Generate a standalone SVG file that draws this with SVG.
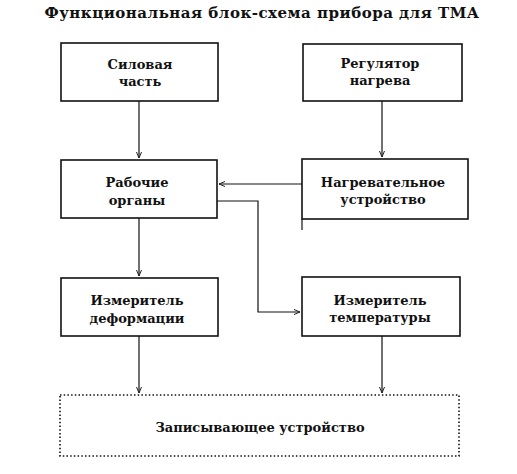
<svg xmlns="http://www.w3.org/2000/svg" width="517" height="474" viewBox="0 0 517 474">
<defs>
<marker id="arr" markerWidth="8" markerHeight="8" refX="7" refY="4" orient="auto" markerUnits="userSpaceOnUse">
<path d="M1,1.5 L7,4 L1,6.5" fill="none" stroke="#222" stroke-width="1"/>
</marker>
</defs>
<style>
.box{fill:#fff;stroke:#111;stroke-width:1.6}
.dot{fill:#fff;stroke:#111;stroke-width:1.6;stroke-dasharray:1.5 2.2}
.t{font-family:"DejaVu Serif","Liberation Serif",serif;font-weight:bold;font-size:13px;fill:#111;text-anchor:middle}
.title{font-family:"DejaVu Serif","Liberation Serif",serif;font-weight:bold;font-size:15px;fill:#111;text-anchor:middle;letter-spacing:0.5px}
.c{fill:none;stroke:#111;stroke-width:1.2}
</style>
<rect width="517" height="474" fill="#fff"/>
<text class="title" x="262" y="18">Функциональная блок-схема прибора для ТМА</text>
<g id="connectors">
<line class="c" x1="139" y1="101" x2="139" y2="158" marker-end="url(#arr)"/>
<line class="c" x1="382" y1="101" x2="382" y2="157" marker-end="url(#arr)"/>
<line class="c" x1="302" y1="184" x2="219" y2="184" marker-end="url(#arr)"/>
<polyline class="c" points="217,201 258,201 258,312 300,312" marker-end="url(#arr)"/>
<line class="c" x1="139" y1="218" x2="139" y2="276" marker-end="url(#arr)"/>
<line class="c" x1="139" y1="336" x2="139" y2="393" marker-end="url(#arr)"/>
<line class="c" x1="382" y1="336" x2="382" y2="393" marker-end="url(#arr)"/>
</g>
<g id="silovaya">
<rect class="box" x="61" y="43" width="157" height="58"/>
<text class="t" x="140" y="69">Силовая</text>
<text class="t" x="140" y="86">часть</text>
</g>
<g id="regulyator">
<rect class="box" x="303" y="44" width="159" height="57"/>
<text class="t" x="380" y="68">Регулятор</text>
<text class="t" x="380" y="85">нагрева</text>
</g>
<g id="rabochie">
<rect class="box" x="61" y="160" width="156" height="58"/>
<text class="t" x="137" y="187">Рабочие</text>
<text class="t" x="137" y="205">органы</text>
</g>
<g id="nagrevatelnoe">
<rect class="box" x="302" y="159" width="166" height="60"/>
<line class="c" x1="302" y1="219" x2="302" y2="230" stroke-width="1.6"/>
<text class="t" x="383" y="187">Нагревательное</text>
<text class="t" x="383" y="204">устройство</text>
</g>
<g id="izm-deform">
<rect class="box" x="61" y="278" width="157" height="58"/>
<text class="t" x="137" y="305">Измеритель</text>
<text class="t" x="137" y="323">деформации</text>
</g>
<g id="izm-temp">
<rect class="box" x="302" y="277" width="158" height="59"/>
<text class="t" x="380" y="305">Измеритель</text>
<text class="t" x="380" y="322">температуры</text>
</g>
<g id="zapisyvayushchee">
<rect class="dot" x="60" y="395" width="399" height="61"/>
<text class="t" x="260" y="432">Записывающее  устройство</text>
</g>
</svg>
